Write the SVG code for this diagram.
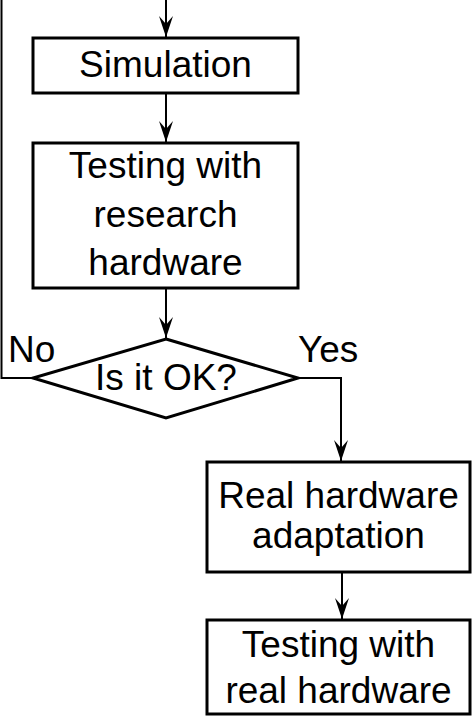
<svg xmlns="http://www.w3.org/2000/svg" width="474" height="716" viewBox="0 0 474 716">
<style>
.box{fill:#fff;stroke:#000;stroke-width:3}
.ln{fill:none;stroke:#000;stroke-width:2}
text{font-family:"Liberation Sans",Arial,sans-serif;font-size:37px;fill:#000}
.c{text-anchor:middle}
</style>
<defs>
<marker id="ah" markerUnits="userSpaceOnUse" markerWidth="24" markerHeight="16" viewBox="-22 -8 24 16" refX="0" refY="0" orient="auto">
<path d="M0,0 L-21,-7 L-13,0 L-21,7 Z" fill="#000"/>
</marker>
</defs>
<rect width="474" height="716" fill="#fff"/>
<g id="connectors">
<line class="ln" x1="166" y1="0" x2="166" y2="37" marker-end="url(#ah)"/>
<line class="ln" x1="166" y1="93" x2="166" y2="142" marker-end="url(#ah)"/>
<line class="ln" x1="166" y1="288" x2="166" y2="338" marker-end="url(#ah)"/>
<polyline class="ln" points="33,378 1.5,378 1.5,0"/>
<polyline class="ln" points="298,378 341,378 341,461" marker-end="url(#ah)"/>
<line class="ln" x1="342" y1="572" x2="342" y2="619" marker-end="url(#ah)"/>
<text x="8" y="362">No</text>
<text x="298" y="362">Yes</text>
</g>
<g id="simulation">
<rect class="box" x="33" y="38" width="265" height="55"/>
<text class="c" x="165.5" y="77">Simulation</text>
</g>
<g id="testing-research">
<rect class="box" x="33" y="143" width="265" height="145"/>
<text class="c" x="165.5" y="178">Testing with</text>
<text class="c" x="165.5" y="227">research</text>
<text class="c" x="165.5" y="275">hardware</text>
</g>
<g id="decision">
<polygon class="box" points="166,339 298,378 166,418 33,378"/>
<text class="c" x="166" y="390">Is it OK?</text>
</g>
<g id="adaptation">
<rect class="box" x="207" y="462" width="263" height="110"/>
<text class="c" x="338.5" y="508">Real hardware</text>
<text class="c" x="338.5" y="548">adaptation</text>
</g>
<g id="testing-real">
<rect class="box" x="207" y="620" width="263" height="94"/>
<text class="c" x="338.5" y="657">Testing with</text>
<text class="c" x="338.5" y="703">real hardware</text>
</g>
</svg>
